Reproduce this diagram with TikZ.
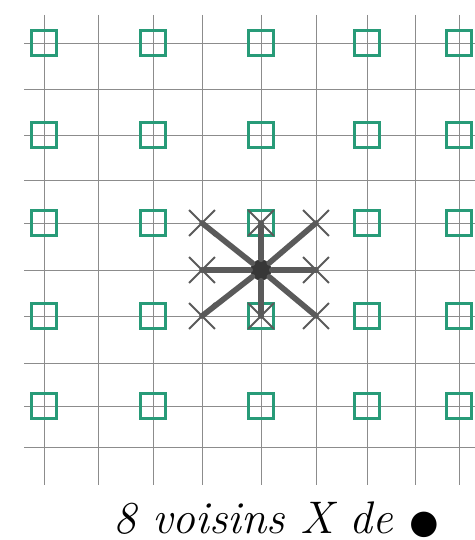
\documentclass[tikz,border=0pt]{standalone}
\usepackage{fontspec}
\newfontfamily\symbole{DejaVu Sans}
\usetikzlibrary{shapes.misc}
\definecolor{vertcarre}{RGB}{40,155,120}
\definecolor{grismine}{RGB}{140,140,140}
\definecolor{grisfonce}{RGB}{90,90,90}
\definecolor{noirpoint}{RGB}{55,55,55}

\begin{document}
\begin{tikzpicture}[x=0.02cm, y=-0.02cm,
    grille/.style={grismine, line width=0.5pt},
    carre/.style={draw=vertcarre, line width=1.5pt, minimum size=0.5cm, inner sep=0pt},
    croix/.style={draw=grisfonce, cross out, line width=1.1pt, minimum size=0.48cm, inner sep=0pt},
    rayon/.style={grisfonce, line width=3.2pt, line cap=round},
    point/.style={circle, fill=noirpoint, minimum size=0.42cm, inner sep=0pt}]
    \useasboundingbox (0,0) rectangle (475,540);

    % grille
    \foreach \x in {44,98,153,202,261,316,367,415,459}
        \draw[grille] (\x,15) -- (\x,485);
    \foreach \y in {43,89,135,180,223,270,316,363,406,447}
        \draw[grille] (24,\y) -- (475,\y);

    % carres verts
    \foreach \x/\i in {44/1,153/2,261/3,367/4,459/5}
        \foreach \y/\j in {43/1,135/2,223/3,316/4,406/5}
            \node[carre] (c\i\j) at (\x,\y) {};

    % les 8 voisins
    \foreach \x/\y/\n in {202/223/1,261/223/2,316/223/3,202/270/4,316/270/5,202/316/6,261/316/7,316/316/8}
        \node[croix] (v\n) at (\x,\y) {};

    % point central et rayons
    \node[point] (p) at (261,270) {};
    \foreach \n in {1,...,8}
        \draw[rayon] (p) -- (v\n.center);

    % legende
    \node[font=\itshape\fontsize{26}{30}\selectfont] (legende) at (276,520) {8 voisins X de {\symbole\fontsize{19}{22}\selectfont ●}};
\end{tikzpicture}
\end{document}
